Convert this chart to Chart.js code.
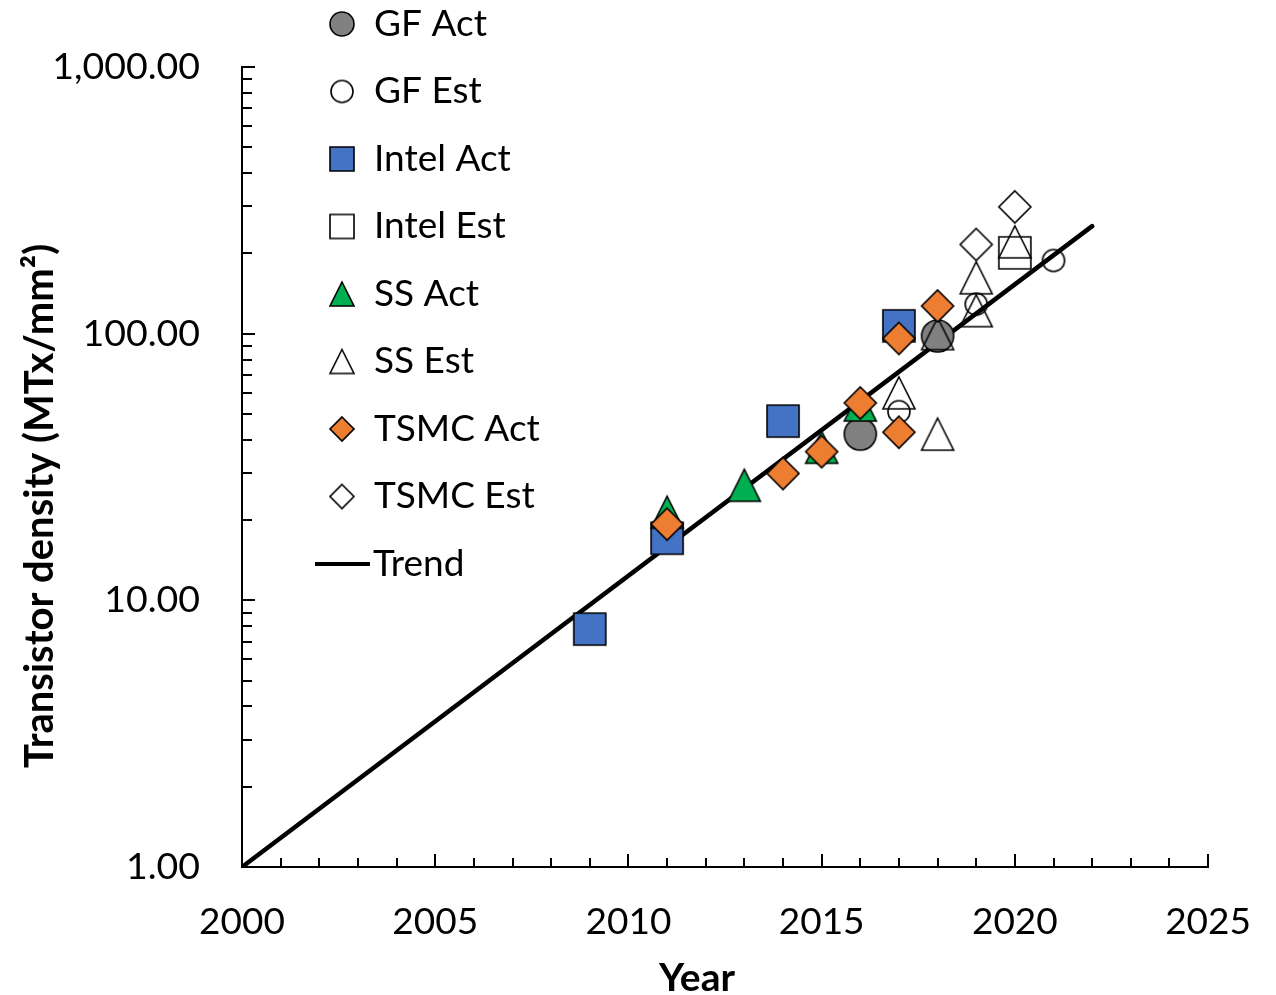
<!DOCTYPE html>
<html>
<head>
<meta charset="utf-8">
<title>Transistor density</title>
<script src="https://cdn.jsdelivr.net/npm/chart.js@4.4.1/dist/chart.umd.min.js"></script>
<style>
  html, body { margin: 0; padding: 0; background: #fff; }
  .chart-box { position: relative; width: 1276px; height: 995px; }
</style>
</head>
<body>
<div class="chart-box"><canvas id="myChart"></canvas></div>
<script>
"use strict";

// Data (year, MTx/mm2)
var gfActYears = [2016, 2018];
var gfActVals = [42, 98];
var gfEstYears = [2017, 2019, 2021];
var gfEstVals = [51, 129, 188];
var intelActYears = [2009, 2011, 2014, 2017];
var intelActVals = [7.8, 17.1, 47, 107];
var intelEstYears = [2020];
var intelEstVals = [201];
var ssActYears = [2011, 2013, 2015, 2016];
var ssActVals = [21.4, 27, 37.5, 54];
var ssEstYears = [2017, 2018, 2018, 2019, 2019, 2020];
var ssEstVals = [60, 42, 100, 122, 162, 221];
var tsmcActYears = [2011, 2014, 2015, 2016, 2017, 2017, 2018];
var tsmcActVals = [19.3, 29.9, 36.1, 55, 42.7, 96, 127];
var tsmcEstYears = [2019, 2020];
var tsmcEstVals = [216, 299];
var trendYears = [2000, 2022];
var trendVals = [1, 253];

// Tick labels and minor tick marks
var xTickValues = [2000, 2005, 2010, 2015, 2020, 2025];
var xMinorTicks = [2001, 2002, 2003, 2004, 2006, 2007, 2008, 2009, 2011, 2012, 2013, 2014,
  2016, 2017, 2018, 2019, 2021, 2022, 2023, 2024];
var yTickValues = [1, 10, 100, 1000];
var yMinorTicks = [2, 3, 4, 5, 6, 7, 8, 9, 20, 30, 40, 50, 60, 70, 80, 90,
  200, 300, 400, 500, 600, 700, 800, 900];

var FONT = 'Lato, "Noto Sans", sans-serif';

// Marker images (Excel style shapes)
function makeMarker(shape, size, fill) {
  var pad = 2;
  var c = document.createElement('canvas');
  c.width = size + pad * 2;
  c.height = size + pad * 2;
  var ctx = c.getContext('2d');
  var cx = c.width / 2;
  var cy = c.height / 2;
  var h = size / 2;
  ctx.beginPath();
  if (shape === 'circle') {
    ctx.arc(cx, cy, h, 0, Math.PI * 2);
  } else if (shape === 'square') {
    ctx.rect(cx - h, cy - h, size, size);
  } else if (shape === 'triangle') {
    ctx.moveTo(cx, cy - h);
    ctx.lineTo(cx + h, cy + h);
    ctx.lineTo(cx - h, cy + h);
    ctx.closePath();
  } else if (shape === 'diamond') {
    ctx.moveTo(cx, cy - h);
    ctx.lineTo(cx + h, cy);
    ctx.lineTo(cx, cy + h);
    ctx.lineTo(cx - h, cy);
    ctx.closePath();
  }
  if (fill) {
    ctx.fillStyle = fill;
    ctx.fill();
  }
  ctx.lineWidth = 1.6;
  ctx.strokeStyle = '#000';
  ctx.stroke();
  return c;
}

var series = [
  { label: 'GF Act', xs: gfActYears, ys: gfActVals, shape: 'circle', size: 32, legendSize: 24, fill: '#808080' },
  { label: 'GF Est', xs: gfEstYears, ys: gfEstVals, shape: 'circle', size: 22, legendSize: 22, fill: null },
  { label: 'Intel Act', xs: intelActYears, ys: intelActVals, shape: 'square', size: 32, legendSize: 24, fill: '#4472C4' },
  { label: 'Intel Est', xs: intelEstYears, ys: intelEstVals, shape: 'square', size: 32, legendSize: 24, fill: null },
  { label: 'SS Act', xs: ssActYears, ys: ssActVals, shape: 'triangle', size: 32, legendSize: 24, fill: '#00B050' },
  { label: 'SS Est', xs: ssEstYears, ys: ssEstVals, shape: 'triangle', size: 32, legendSize: 24, fill: null },
  { label: 'TSMC Act', xs: tsmcActYears, ys: tsmcActVals, shape: 'diamond', size: 32, legendSize: 24, fill: '#ED7D31' },
  { label: 'TSMC Est', xs: tsmcEstYears, ys: tsmcEstVals, shape: 'diamond', size: 32, legendSize: 24, fill: null }
];

function toPoints(xs, ys) {
  return xs.map(function (x, i) { return { x: x, y: ys[i] }; });
}

var datasets = series.map(function (s, i) {
  s.legendImg = makeMarker(s.shape, s.legendSize, s.fill);
  return {
    label: s.label,
    data: toPoints(s.xs, s.ys),
    pointStyle: makeMarker(s.shape, s.size, s.fill),
    pointRadius: s.size / 2,
    pointHoverRadius: s.size / 2,
    showLine: false,
    order: series.length - i   // later series sit on top, like Excel
  };
});

datasets.push({
  label: 'Trend',
  data: toPoints(trendYears, trendVals),
  showLine: true,
  borderColor: '#000',
  borderWidth: 4.5,
  borderCapStyle: 'round',
  pointRadius: 0,
  pointHoverRadius: 0,
  order: 99
});

// Inward tick marks, legend and axis titles
var decorPlugin = {
  id: 'decor',
  afterDraw: function (chart) {
    var ctx = chart.ctx;
    var xs = chart.scales.x;
    var ys = chart.scales.y;
    var area = chart.chartArea;

    ctx.save();
    ctx.strokeStyle = '#000';
    ctx.lineWidth = 2;
    ctx.beginPath();
    xTickValues.concat(xMinorTicks).forEach(function (v) {
      var len = xTickValues.indexOf(v) >= 0 ? 13 : 9;
      var px = Math.round(xs.getPixelForValue(v));
      ctx.moveTo(px, area.bottom);
      ctx.lineTo(px, area.bottom - len);
    });
    yTickValues.concat(yMinorTicks).forEach(function (v) {
      var len = yTickValues.indexOf(v) >= 0 ? 13 : 10;
      var py = Math.round(ys.getPixelForValue(v));
      ctx.moveTo(area.left, py);
      ctx.lineTo(area.left + len, py);
    });
    ctx.stroke();

    // legend
    ctx.font = '37px ' + FONT;
    ctx.fillStyle = '#000';
    ctx.textAlign = 'left';
    ctx.textBaseline = 'middle';
    var rowY = 24;
    series.forEach(function (s) {
      var img = s.legendImg;
      ctx.drawImage(img, 342 - img.width / 2, rowY - img.height / 2);
      ctx.fillText(s.label, 374, rowY);
      rowY += 67.5;
    });
    ctx.lineWidth = 4;
    ctx.beginPath();
    ctx.moveTo(315, rowY);
    ctx.lineTo(370, rowY);
    ctx.stroke();
    ctx.fillText('Trend', 373, rowY);

    // axis titles
    ctx.textAlign = 'center';
    ctx.font = 'bold 39px ' + FONT;
    ctx.fillText('Year', 697, 978);
    ctx.font = 'bold 40px ' + FONT;
    ctx.translate(40, 506);
    ctx.rotate(-Math.PI / 2);
    ctx.fillText('Transistor density (MTx/mm\u00B2)', 0, 0);
    ctx.restore();
  }
};

var ctx = document.getElementById('myChart').getContext('2d');
var myChart = new Chart(ctx, {
  type: 'scatter',
  data: { datasets: datasets },
  options: {
    responsive: true,
    maintainAspectRatio: false,
    animation: false,
    events: [],
    layout: { padding: { top: 67, right: 63, left: 0, bottom: 0 } },
    scales: {
      x: {
        type: 'linear',
        min: 2000,
        max: 2025,
        afterBuildTicks: function (scale) {
          scale.ticks = xTickValues.map(function (v) { return { value: v }; });
        },
        afterFit: function (scale) { scale.height = 128; },
        ticks: {
          autoSkip: false,
          maxRotation: 0,
          padding: 25,
          color: '#000',
          font: { family: FONT, size: 37 },
          callback: function (v) { return String(v); }
        },
        grid: { display: false },
        border: { display: true, color: '#000', width: 2 }
      },
      y: {
        type: 'logarithmic',
        min: 1,
        max: 1000,
        afterBuildTicks: function (scale) {
          scale.ticks = yTickValues.map(function (v) { return { value: v }; });
        },
        afterFit: function (scale) { scale.width = 242; },
        ticks: {
          autoSkip: false,
          padding: 34,
          color: '#000',
          font: { family: FONT, size: 37.5 },
          callback: function (v) {
            return Number(v).toLocaleString('en-US', { minimumFractionDigits: 2, maximumFractionDigits: 2 });
          }
        },
        grid: { display: false },
        border: { display: true, color: '#000', width: 2 }
      }
    },
    plugins: {
      legend: { display: false },
      tooltip: { enabled: false },
      title: { display: false }
    }
  },
  plugins: [decorPlugin]
});
</script>
</body>
</html>
